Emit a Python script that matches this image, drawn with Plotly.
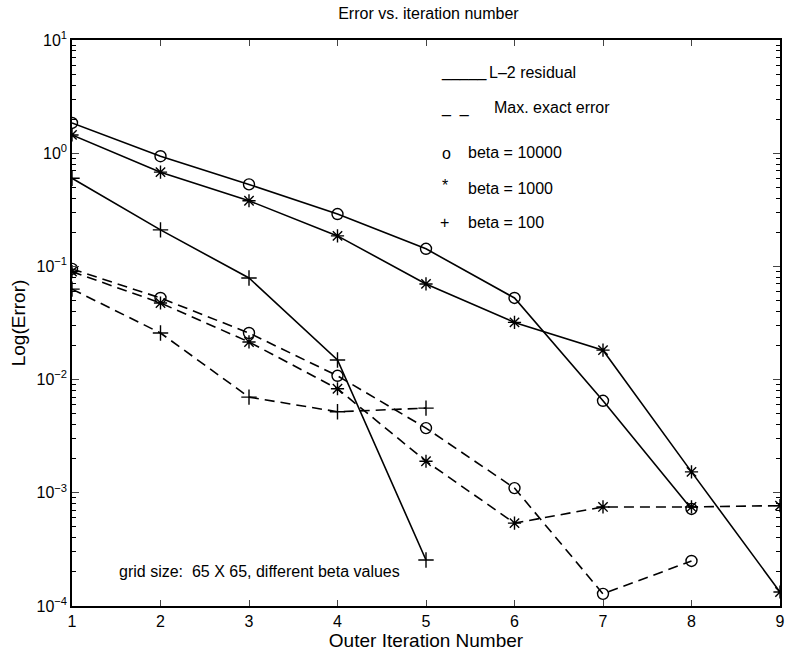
import plotly.graph_objects as go

iterations = [1, 2, 3, 4, 5, 6, 7, 8, 9]

# L-2 residual (solid)
l2_beta10000 = [1.85, 0.94, 0.53, 0.29, 0.143, 0.0526, 0.0065, 0.00072]
l2_beta1000 = [1.45, 0.68, 0.38, 0.186, 0.070, 0.032, 0.0182, 0.00153, 0.000133]
l2_beta100 = [0.60, 0.21, 0.079, 0.0149, 0.000255]

# Max. exact error (dashed)
mx_beta10000 = [0.095, 0.0526, 0.0258, 0.0108, 0.00373, 0.0011, 0.000128, 0.00025]
mx_beta1000 = [0.090, 0.0475, 0.0215, 0.0083, 0.0019, 0.00054, 0.00075, 0.00075, 0.00077]
mx_beta100 = [0.063, 0.0258, 0.0070, 0.0052, 0.0056]

ytick_vals = [1e-4, 1e-3, 1e-2, 1e-1, 1e0, 1e1]
ytick_text = ["10<sup>−4</sup>", "10<sup>−3</sup>", "10<sup>−2</sup>",
              "10<sup>−1</sup>", "10<sup>0</sup>", "10<sup>1</sup>"]
minor_vals = [m * 10 ** e for e in range(-4, 1) for m in range(2, 10)]

FONT = "Liberation Sans, Arial, sans-serif"
fig = go.Figure()

def add(y, sym, dash):
    fig.add_trace(go.Scatter(
        x=iterations[:len(y)], y=y, mode="lines+markers",
        line=dict(color="black", width=1.6, dash=dash),
        marker=dict(symbol=sym, size=11, color="black",
                    line=dict(color="black", width=1.4)),
        showlegend=False))

add(l2_beta10000, "circle-open", "solid")
add(l2_beta1000, "asterisk-open", "solid")
add(l2_beta100, "cross-thin-open", "solid")
add(mx_beta10000, "circle-open", "10px,6px")
add(mx_beta1000, "asterisk-open", "10px,6px")
add(mx_beta100, "cross-thin-open", "10px,6px")

fig.update_layout(
    width=789, height=655,
    margin=dict(l=72, r=4, t=40, b=49),
    paper_bgcolor="white", plot_bgcolor="white",
    font=dict(family=FONT, size=16, color="black"),
    title=dict(text="Error vs. iteration number", x=0.543, xanchor="center",
               y=1 - 13 / 655, yanchor="middle", yref="container",
               font=dict(size=16)),
)

fig.update_xaxes(
    range=[1, 9], tickvals=iterations, ticks="inside", ticklen=6,
    showline=True, linecolor="black", linewidth=1.5, mirror="ticks",
    showgrid=False, zeroline=False, ticklabeloverflow="allow",
    title=dict(text="Outer Iteration Number", standoff=0),
)
fig.update_yaxes(
    type="log", range=[-4, 1], tickvals=ytick_vals, ticktext=ytick_text,
    ticks="inside", ticklen=7, showline=True, linecolor="black",
    linewidth=1.5, mirror="ticks", showgrid=False, zeroline=False,
    ticklabeloverflow="allow",
    minor=dict(tickvals=minor_vals, ticks="inside", ticklen=4,
               tickcolor="black", showgrid=False),
    title=dict(text="Log(Error)", standoff=6),
)

ann = [
    ("_____", 442, 72, "left"),
    ("L–2 residual", 490, 73, "left"),
    ("_  _", 442, 108, "left"),
    ("Max. exact error", 495, 108, "left"),
    ("o", 443, 153, "left"),
    ("beta = 10000", 469, 152, "left"),
    ("*", 443, 185, "left"),
    ("beta = 1000", 469, 188, "left"),
    ("+", 441, 222, "left"),
    ("beta = 100", 469, 222, "left"),
    ("grid size:  65 X 65, different beta values", 117, 571, "left"),
]
for text, px, py, anchor in ann:
    fig.add_annotation(text=text, xref="paper", yref="paper",
                       x=(px - 72) / (785 - 72), y=1 - (py - 40) / (606 - 40),
                       xanchor=anchor, yanchor="middle", showarrow=False,
                       font=dict(size=16))

fig.write_html("out.html", config={"displayModeBar": False},
               post_script="document.body.style.margin='0';")
